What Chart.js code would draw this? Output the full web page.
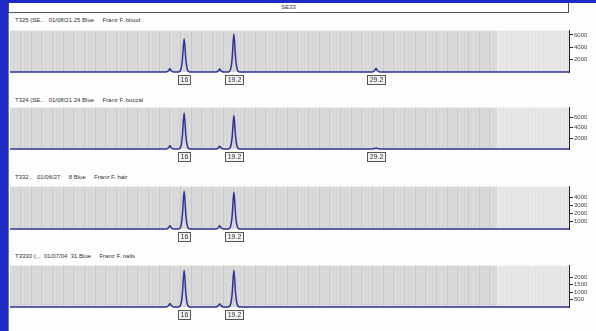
<!DOCTYPE html>
<html>
<head>
<meta charset="utf-8">
<script src="https://cdn.jsdelivr.net/npm/chart.js@4.4.1/dist/chart.umd.min.js"></script>
<style>
  html, body { margin: 0; padding: 0; }
  body { width: 596px; height: 331px; background: #1d2bc4; position: relative; overflow: hidden; font-family: "Liberation Sans", Arial, sans-serif; }
  #sheet { position: absolute; left: 8px; top: 3px; width: 588px; height: 328px; background: #fdfdfd; border-left: 1px solid #7a7a7a; box-sizing: border-box; }
  #marker { position: absolute; left: 8px; top: 3px; width: 561px; height: 10px; border: 1px solid #555; border-top: none; box-sizing: border-box; font-size: 6px; line-height: 9px; text-align: center; color: #333; background: #fff; }
  .title { position: absolute; left: 15px; font-size: 6px; color: #333; white-space: pre; }
  canvas { position: absolute; left: 10px; }
</style>
</head>
<body>
<div id="sheet"></div>
<div id="marker">SE33</div>
<div id="titles"></div>
<div id="charts"></div>
<script>
// sample labels, one per panel
const sampleTitles = [
  'T325 (SE...  01/08/21 25 Blue     Franz F. blood',
  'T324 (SE...  01/08/21 24 Blue     Franz F. buccal',
  'T332 ,   01/06/27     8 Blue     Franz F. hair',
  'T3330 (...  01/07/04  31 Blue     Franz F. nails',
];

// x positions of the trace (bp)
const traceBp = [201,
  245.0, 245.6, 246, 246.4, 247.0,
  248.4, 249.1, 249.5, 250, 250.5, 250.9, 251.6,
  259.0, 259.6, 260, 260.4, 261.0,
  262.4, 263.1, 263.5, 264, 264.5, 264.9, 265.6,
  303.0, 303.6, 304, 304.4, 305.0,
  358.3];

// RFU values
const bloodRfu  = [0, 0, 200, 520, 200, 0, 0, 450, 1900, 5400, 1900, 450, 0,
                   0, 180, 480, 180, 0, 0, 500, 2150, 6150, 2150, 500, 0,
                   0, 250, 600, 250, 0, 0];
const buccalRfu = [0, 0, 230, 600, 230, 0, 0, 560, 2400, 6850, 2400, 560, 0,
                   0, 200, 520, 200, 0, 0, 520, 2200, 6300, 2200, 520, 0,
                   0, 80, 200, 80, 0, 0];
const hairRfu   = [0, 0, 170, 420, 170, 0, 0, 400, 1700, 4800, 1700, 400, 0,
                   0, 160, 400, 160, 0, 0, 390, 1650, 4700, 1650, 390, 0,
                   0, 0, 0, 0, 0, 0];
const nailsRfu  = [0, 0, 100, 240, 100, 0, 0, 200, 870, 2480, 870, 200, 0,
                   0, 90, 210, 90, 0, 0, 200, 870, 2480, 870, 200, 0,
                   0, 0, 0, 0, 0, 0];

// allele calls
const callNames = ['16', '19.2', '29.2'];
const callBp = [250, 264, 304];

// y ticks per panel
const ticksBlood  = [2000, 4000, 6000];
const ticksBuccal = [2000, 4000, 6000];
const ticksHair   = [1000, 2000, 3000, 4000];
const ticksNails  = [500, 1000, 1500, 2000];

const BP_MIN = 201, BP_MAX = 358.3, BP_FADE = 338;

const panels = [
  { top: 26,  h: 46, max: 6700, rfu: bloodRfu,  ticks: ticksBlood,  calls: 3, titleTop: 17 },
  { top: 103, h: 46, max: 7800, rfu: buccalRfu, ticks: ticksBuccal, calls: 3, titleTop: 97 },
  { top: 182, h: 47, max: 5370, rfu: hairRfu,   ticks: ticksHair,   calls: 2, titleTop: 174 },
  { top: 261, h: 46, max: 2790, rfu: nailsRfu,  ticks: ticksNails,  calls: 2, titleTop: 253 },
];

const backdrop = {
  id: 'backdrop',
  beforeDraw(chart) {
    const { ctx, chartArea: a, scales: { x } } = chart;
    const fx = x.getPixelForValue(BP_FADE);
    ctx.save();
    ctx.fillStyle = '#dadada';
    ctx.fillRect(a.left, a.top, fx - a.left, a.bottom - a.top);
    ctx.fillStyle = '#e8e8e8';
    ctx.fillRect(fx, a.top, a.right - fx, a.bottom - a.top);
    ctx.restore();
  },
};

const callBoxes = {
  id: 'callBoxes',
  afterDraw(chart, args, opts) {
    const { ctx, chartArea: a, scales: { x } } = chart;
    ctx.save();
    ctx.font = '7px "Liberation Sans", Arial, sans-serif';
    ctx.textAlign = 'center';
    ctx.textBaseline = 'middle';
    for (let i = 0; i < opts.count; i++) {
      const px = Math.round(x.getPixelForValue(callBp[i]));
      const w = Math.ceil(ctx.measureText(callNames[i]).width) + 4;
      const y = a.bottom + 3;
      ctx.fillStyle = '#f4f4f4';
      ctx.fillRect(px - w / 2, y, w, 9);
      ctx.strokeStyle = '#555';
      ctx.lineWidth = 1;
      ctx.strokeRect(px - w / 2 + 0.5, y + 0.5, w, 9);
      ctx.fillStyle = '#333';
      ctx.fillText(callNames[i], px + 0.5, y + 5);
    }
    ctx.restore();
  },
};

const titleBox = document.getElementById('titles');
const chartBox = document.getElementById('charts');

panels.forEach((p, idx) => {
  const t = document.createElement('div');
  t.className = 'title';
  t.style.top = p.titleTop + 'px';
  t.textContent = sampleTitles[idx];
  titleBox.appendChild(t);

  const canvas = document.createElement('canvas');
  canvas.width = 586;
  canvas.height = p.h + 18;
  canvas.style.top = p.top + 'px';
  chartBox.appendChild(canvas);

  new Chart(canvas.getContext('2d'), {
    type: 'line',
    data: {
      datasets: [{
        data: traceBp.map((bp, i) => ({ x: bp, y: p.rfu[i] })),
        borderColor: '#2d3192',
        borderWidth: 1.5,
        borderJoinStyle: 'round',
        pointRadius: 0,
        cubicInterpolationMode: 'monotone',
        clip: 4,
      }],
    },
    options: {
      responsive: false,
      animation: false,
      devicePixelRatio: 1,
      layout: { padding: { top: 0, bottom: 18, left: 0, right: 0 } },
      plugins: { legend: { display: false }, tooltip: { enabled: false }, callBoxes: { count: p.calls } },
      scales: {
        x: {
          type: 'linear',
          min: BP_MIN,
          max: BP_MAX,
          afterFit(s) { s.height = 0; },
          afterBuildTicks(s) {
            const ticks = [];
            for (let v = 202; v < BP_MAX; v += 1) ticks.push({ value: v });
            s.ticks = ticks;
          },
          ticks: { display: false },
          grid: {
            drawTicks: false,
            lineWidth: 1,
            color: (c) => {
              const v = c.tick ? c.tick.value : 0;
              if (v > BP_FADE) return 'rgba(170,170,170,0.08)';
              return v % 3 === 0 ? 'rgba(130,130,130,0.2)' : 'rgba(150,150,150,0.08)';
            },
          },
          border: { display: false },
        },
        y: {
          position: 'right',
          min: 0,
          max: p.max,
          afterFit(s) { s.width = 27; },
          afterBuildTicks(s) { s.ticks = p.ticks.map((v) => ({ value: v })); },
          ticks: {
            font: { size: 6, family: '"Liberation Sans", Arial, sans-serif' },
            color: '#444',
            padding: 1,
            callback: (v) => String(v),
          },
          grid: { drawOnChartArea: false, tickLength: 4, color: '#222' },
          border: { display: true, color: '#222', width: 1 },
        },
      },
    },
    plugins: [backdrop, callBoxes],
  });
});
</script>
</body>
</html>
